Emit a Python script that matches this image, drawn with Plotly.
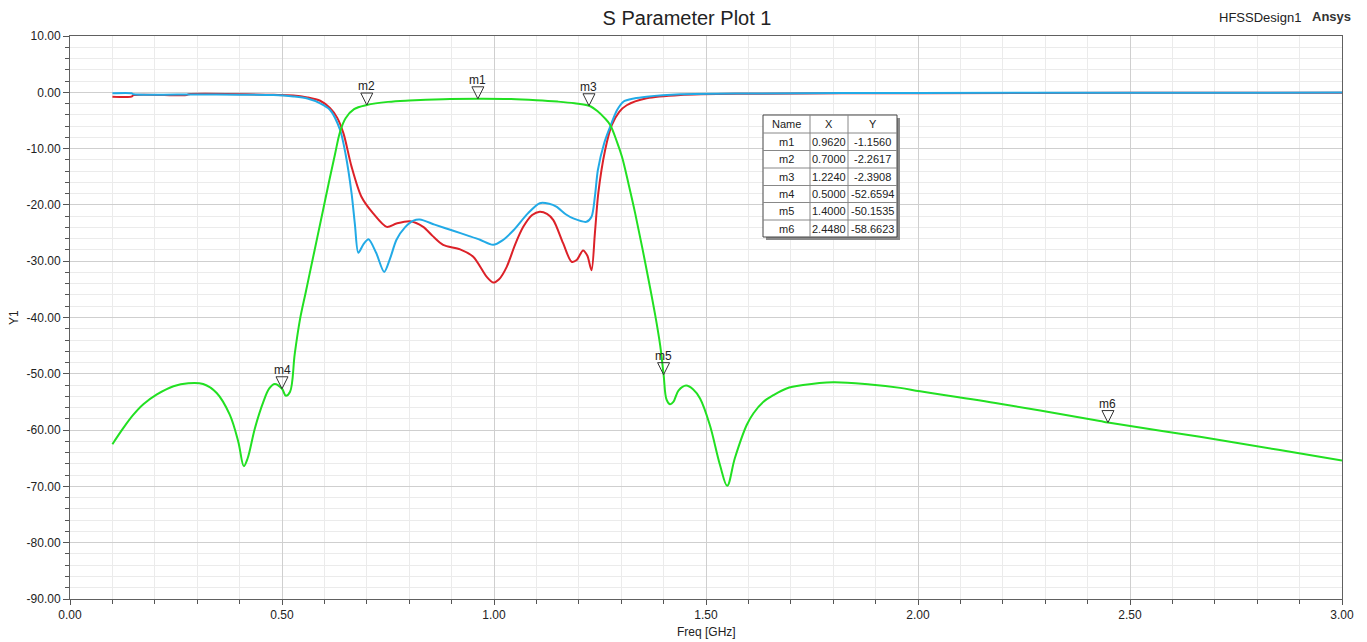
import plotly.graph_objects as go

# ---------------- data ----------------
freq_s11 = [0.10, 0.145, 0.15, 0.275, 0.28, 0.48, 0.527, 0.56, 0.59, 0.613, 0.630, 0.645, 0.664, 0.687,
            0.715, 0.747, 0.770, 0.802, 0.833, 0.855, 0.880, 0.920, 0.951, 0.983, 0.998, 1.012, 1.030,
            1.050, 1.069, 1.090, 1.108, 1.125, 1.140, 1.163, 1.183, 1.195, 1.210, 1.220, 1.230, 1.238,
            1.246, 1.262, 1.278, 1.295, 1.313, 1.36, 1.44, 1.60, 2.00, 2.50, 3.00]
s11_db = [-0.77, -0.77, -0.5, -0.5, -0.35, -0.45, -0.55, -0.9, -1.5, -2.8, -4.5, -7.3, -13.2, -18.5,
          -21.5, -23.9, -23.3, -22.9, -23.9, -25.5, -27.1, -27.9, -29.2, -32.8, -33.8, -33.2, -31.0,
          -27.0, -23.9, -21.8, -21.2, -21.6, -22.7, -26.8, -30.1, -29.8, -28.1, -29.0, -31.6, -25.0,
          -17.9, -10.3, -5.8, -3.5, -2.3, -1.07, -0.48, -0.25, -0.15, -0.10, -0.06]

freq_s22 = [0.10, 0.145, 0.15, 0.30, 0.40, 0.48, 0.527, 0.56, 0.59, 0.613, 0.637, 0.650, 0.664, 0.672,
            0.680, 0.692, 0.704, 0.722, 0.741, 0.755, 0.770, 0.790, 0.810, 0.825, 0.860, 0.904, 0.940,
            0.967, 0.998, 1.020, 1.046, 1.080, 1.108, 1.130, 1.147, 1.170, 1.187, 1.218, 1.230, 1.238,
            1.245, 1.260, 1.274, 1.290, 1.305, 1.330, 1.36, 1.44, 1.60, 2.00, 2.50, 3.00]
s22_db = [-0.18, -0.18, -0.35, -0.38, -0.42, -0.5, -0.75, -1.1, -1.96, -3.1, -6.7, -11.0, -17.9, -23.5,
          -28.5, -27.0, -26.1, -28.5, -31.9, -29.5, -26.2, -24.0, -22.8, -22.6, -23.5, -24.6, -25.5,
          -26.2, -27.1, -26.3, -24.5, -21.5, -19.7, -19.8, -20.3, -21.7, -22.4, -23.0, -22.1, -18.5,
          -13.8, -9.0, -6.1, -3.2, -1.67, -1.1, -0.78, -0.36, -0.2, -0.12, -0.08, -0.05]

freq_s21 = [0.10, 0.126, 0.149, 0.173, 0.204, 0.244, 0.279, 0.314, 0.346, 0.377, 0.397, 0.41, 0.419,
            0.436, 0.456, 0.47, 0.483, 0.50, 0.509, 0.519, 0.530, 0.542, 0.556, 0.570, 0.584, 0.598,
            0.612, 0.625, 0.637, 0.65, 0.67, 0.70, 0.75, 0.80, 0.88, 0.962, 1.04, 1.10, 1.15, 1.19,
            1.224, 1.245, 1.26, 1.274, 1.29, 1.302, 1.318, 1.333, 1.356, 1.38, 1.392, 1.40, 1.407, 1.415,
            1.423, 1.435, 1.453, 1.47, 1.486, 1.509, 1.533, 1.55, 1.568, 1.596, 1.612, 1.635, 1.659,
            1.69, 1.729, 1.80, 1.887, 1.958, 2.005, 2.193, 2.429, 2.448, 2.665, 2.85, 3.00]
s21_db = [-62.5, -59.6, -57.3, -55.4, -53.7, -52.2, -51.66, -51.8, -53.4, -57.3, -62.1, -66.4, -65.0,
          -59.7, -55.0, -52.6, -51.8, -52.66, -53.9, -53.2, -46.5, -40.5, -35.5, -30.5, -25.5, -20.5,
          -15.5, -11.0, -7.0, -4.6, -3.0, -2.26, -1.7, -1.45, -1.22, -1.156, -1.2, -1.4, -1.65, -1.95,
          -2.39, -3.4, -4.5, -5.8, -8.8, -11.5, -16.5, -21.5, -30.0, -39.5, -45.0, -50.15, -54.6, -55.4,
          -55.0, -53.0, -52.1, -52.8, -54.4, -59.1, -66.2, -69.9, -65.0, -59.1, -57.0, -55.0, -53.8,
          -52.6, -52.0, -51.5, -51.9, -52.5, -53.1, -55.3, -58.4, -58.66, -61.2, -63.5, -65.4]

marker_names = ["m1", "m2", "m3", "m4", "m5", "m6"]
marker_x = [0.9620, 0.7000, 1.2240, 0.5000, 1.4000, 2.4480]
marker_y = [-1.1560, -2.2617, -2.3908, -52.6594, -50.1535, -58.6623]

x_ticks = [0.0, 0.5, 1.0, 1.5, 2.0, 2.5, 3.0]
y_ticks = [10, 0, -10, -20, -30, -40, -50, -60, -70, -80, -90]

# ---------------- layout geometry ----------------
OFF = 8                      # page body margin added by the browser
W, H = 1367 - OFF, 642 - OFF
ML, MT = 70 - OFF, 36 - OFF  # plot area left/top (reference 70, 36)
PW, PH = 1342 - 70, 599 - 36
MR, MB = W - ML - PW, H - MT - PH
FONT = "Liberation Sans, Arial, sans-serif"


def px(x):
    """reference page x -> paper fraction"""
    return (x - 70) / PW


def py(y):
    """reference page y -> paper fraction"""
    return (599 - y) / PH


fig = go.Figure()
fig.add_trace(go.Scatter(x=freq_s11, y=s11_db, mode="lines", name="dB(S(1,1))",
                         line=dict(color="#dc2128", width=2, shape="spline", smoothing=0.8)))
fig.add_trace(go.Scatter(x=freq_s22, y=s22_db, mode="lines", name="dB(S(2,2))",
                         line=dict(color="#22aae6", width=2, shape="spline", smoothing=0.8)))
fig.add_trace(go.Scatter(x=freq_s21, y=s21_db, mode="lines", name="dB(S(2,1))",
                         line=dict(color="#22e022", width=2, shape="spline", smoothing=1.0)))

shapes = []
annotations = []

# marker triangles + labels
for n, mx, my in zip(marker_names, marker_x, marker_y):
    shapes.append(dict(type="path", xref="x", yref="y", xsizemode="pixel", ysizemode="pixel",
                       xanchor=mx, yanchor=my, path="M-6,12 L6,12 L0,0 Z",
                       line=dict(color="#333333", width=1), fillcolor="rgba(255,255,255,0)"))
    annotations.append(dict(x=mx, y=my, xref="x", yref="y", text=n, showarrow=False,
                            yanchor="bottom", yshift=10, font=dict(family=FONT, size=12, color="#222")))

# marker table
tx0, tx1, ty0, ty1 = 763, 897, 115, 237
col_x = [763, 810, 848, 897]
row_y = [115, 133, 150.5, 168, 185.5, 202.5, 220, 237]
shapes.append(dict(type="rect", xref="paper", yref="paper", x0=px(tx0 + 3), x1=px(tx1 + 3),
                   y0=py(ty1 + 3), y1=py(ty0 + 3), line=dict(width=0), fillcolor="#8a8a8a"))
shapes.append(dict(type="rect", xref="paper", yref="paper", x0=px(tx0), x1=px(tx1),
                   y0=py(ty1), y1=py(ty0), line=dict(color="#444", width=1), fillcolor="white"))
for cx in col_x[1:-1]:
    shapes.append(dict(type="line", xref="paper", yref="paper", x0=px(cx), x1=px(cx),
                       y0=py(ty1), y1=py(ty0), line=dict(color="#888", width=1)))
for ry in row_y[1:-1]:
    shapes.append(dict(type="line", xref="paper", yref="paper", x0=px(tx0), x1=px(tx1),
                       y0=py(ry), y1=py(ry), line=dict(color="#888", width=1)))

rows = [["Name", "X", "Y"]] + [[n, f"{mx:.4f}", f"{my:.4f}"]
                               for n, mx, my in zip(marker_names, marker_x, marker_y)]
for ri, row in enumerate(rows):
    yc = (row_y[ri] + row_y[ri + 1]) / 2
    for ci, txt in enumerate(row):
        xc = (col_x[ci] + col_x[ci + 1]) / 2
        annotations.append(dict(x=px(xc), y=py(yc), xref="paper", yref="paper", text=txt,
                                showarrow=False, xanchor="center", yanchor="middle",
                                font=dict(family=FONT, size=11, color="#222")))

# header / axis texts
annotations.append(dict(x=px(1303), y=py(17), xref="paper", yref="paper", text="HFSSDesign1",
                        showarrow=False, xanchor="right", yanchor="middle",
                        font=dict(family=FONT, size=13, color="#222")))
annotations.append(dict(x=px(1353), y=py(16), xref="paper", yref="paper", text="<b>Ansys</b>",
                        showarrow=False, xanchor="right", yanchor="middle",
                        font=dict(family=FONT, size=13, color="#333")))
annotations.append(dict(x=px(14), y=py(318), xref="paper", yref="paper", text="Y1",
                        showarrow=False, textangle=-90, xanchor="center", yanchor="middle",
                        font=dict(family=FONT, size=12, color="#222")))
annotations.append(dict(x=px(706), y=py(632), xref="paper", yref="paper", text="Freq [GHz]",
                        showarrow=False, xanchor="center", yanchor="middle",
                        font=dict(family=FONT, size=12, color="#222")))

fig.update_layout(
    width=W, height=H,
    margin=dict(l=ML, r=MR, t=MT, b=MB, pad=0),
    paper_bgcolor="white", plot_bgcolor="white",
    showlegend=False,
    title=dict(text="S Parameter Plot 1", x=(687 - OFF) / W, xref="container", xanchor="center",
               y=1 - (18 - OFF) / H, yref="container", yanchor="middle",
               font=dict(family=FONT, size=20, color="#222")),
    font=dict(family=FONT, size=12, color="#222"),
    shapes=shapes, annotations=annotations,
)
fig.update_xaxes(range=[0, 3], tickmode="array", tickvals=x_ticks,
                 ticktext=[f"{v:.2f}" for v in x_ticks],
                 ticks="outside", ticklen=5, tickcolor="#555", showline=True, mirror=True,
                 linecolor="#606060", linewidth=1, showgrid=True, gridcolor="#cfcfcf", gridwidth=1,
                 zeroline=False, tickfont=dict(family=FONT, size=12, color="#222"),
                 minor=dict(tickmode="linear", tick0=0, dtick=0.1, ticks="outside", ticklen=4,
                            tickcolor="#555", showgrid=True, gridcolor="#ebebeb", gridwidth=1))
fig.update_yaxes(range=[-90, 10], tickmode="array", tickvals=y_ticks,
                 ticktext=[f"{v:.2f}" for v in y_ticks],
                 ticks="outside", ticklen=6, tickcolor="#555", showline=True, mirror=True,
                 linecolor="#606060", linewidth=1, showgrid=True, gridcolor="#cfcfcf", gridwidth=1,
                 zeroline=False, tickfont=dict(family=FONT, size=12, color="#222"),
                 minor=dict(tickmode="linear", tick0=0, dtick=2, ticks="outside", ticklen=4,
                            tickcolor="#555", showgrid=True, gridcolor="#ebebeb", gridwidth=1))

fig.write_html("out.html")
